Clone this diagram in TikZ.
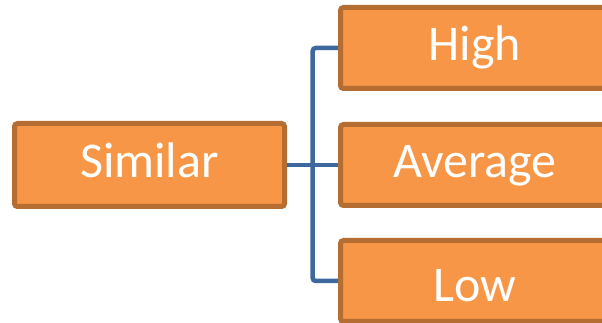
\documentclass[tikz,border=0pt]{standalone}
\usepackage{fontspec}
\setmainfont{Carlito}
\definecolor{boxfill}{HTML}{F79646}
\definecolor{boxline}{HTML}{B66D31}
\definecolor{connblue}{HTML}{3F689F}
\begin{document}
\begin{tikzpicture}[x=1pt,y=1pt,
  box/.style={draw=boxline, fill=boxfill, line width=5pt, rounded corners=3pt,
    text=white, font=\fontsize{50}{60}\selectfont, inner sep=0pt,
    text height=25pt, text depth=0pt, align=center},
  leftbox/.style={box, minimum width=270pt, minimum height=83pt},
  rightbox/.style={box, minimum width=269pt, minimum height=81pt},
  conn/.style={draw=connblue, line width=4.5pt, rounded corners=3pt}]
\useasboundingbox (0,0) rectangle (602,323);
\clip (0,0) rectangle (602,323);
\coordinate (hub) at (312.7,158);
\node[leftbox] (sim) at (149.5,158) {Similar};
\node[rightbox] (high) at (475,275) {High};
\node[rightbox] (avg) at (475,158) {Average};
\node[rightbox, text height=41pt] (low) at (475,42) {Low};
\draw[conn] (sim.east) -- (avg.west);
\draw[conn] (high.west) -| (hub) |- (low.west);
\end{tikzpicture}
\end{document}
